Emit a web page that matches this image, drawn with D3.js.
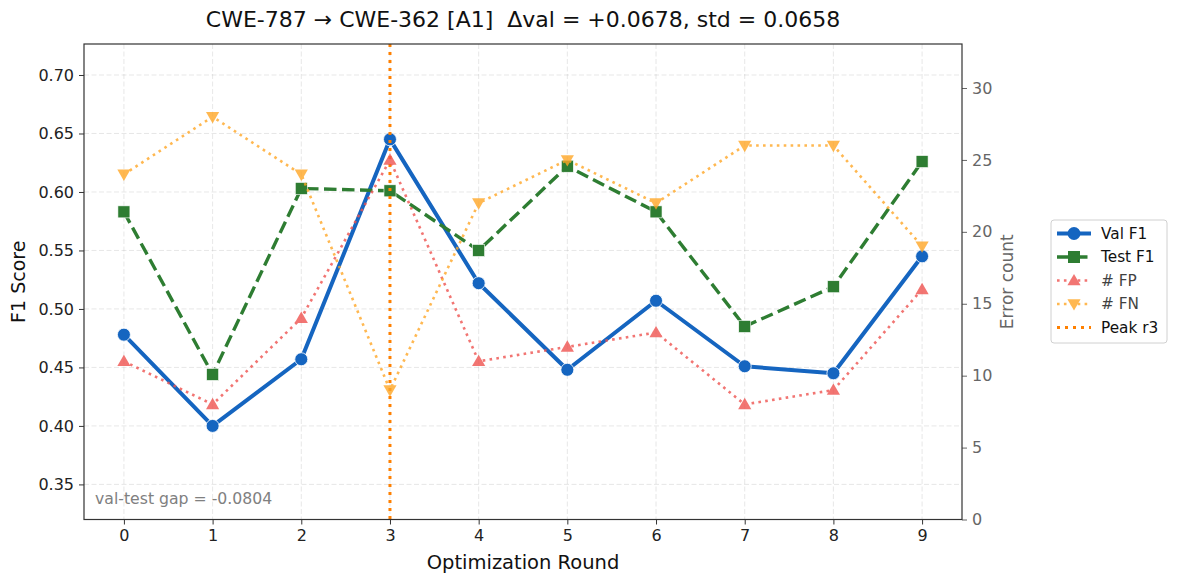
<!DOCTYPE html>
<html>
<head>
<meta charset="utf-8">
<script src="https://cdn.jsdelivr.net/npm/d3@7"></script>
<style>
  body { margin: 0; background: #fff; }
  svg { font-family: "DejaVu Sans", sans-serif; }
  text { white-space: pre; }
</style>
</head>
<body>
<div id="container"></div>
<script>
// data
const rounds = [0, 1, 2, 3, 4, 5, 6, 7, 8, 9];
const valF1 = [0.478, 0.400, 0.457, 0.645, 0.522, 0.448, 0.507, 0.451, 0.445, 0.545];
const testF1 = [0.583, 0.444, 0.603, 0.601, 0.550, 0.622, 0.583, 0.485, 0.519, 0.626];
const fpCount = [11, 8, 14, 25, 11, 12, 13, 8, 9, 16];
const fnCount = [24, 28, 24, 9, 22, 25, 22, 26, 26, 19];
const peakRound = 3;
const leftTicks = [0.35, 0.40, 0.45, 0.50, 0.55, 0.60, 0.65, 0.70];
const rightTicks = [0, 5, 10, 15, 20, 25, 30];
const titleText = "CWE-787 \u2192 CWE-362 [A1]  \u0394val = +0.0678, std = 0.0658";
const gapText = "val-test gap = -0.0804";

const width = 1178, height = 582;
const margin = { top: 44, right: 216, bottom: 62.5, left: 84 };
const plotW = width - margin.left - margin.right;
const plotH = height - margin.top - margin.bottom;

const svg = d3.select("#container")
    .append("svg")
    .attr("width", width)
    .attr("height", height);

const x = d3.scaleLinear().domain([-0.45, 9.45]).range([0, plotW]);
const yL = d3.scaleLinear().domain([0.32, 0.7265]).range([plotH, 0]);
const yR = d3.scaleLinear().domain([0, 33.06]).range([plotH, 0]);

const g = svg.append("g")
    .attr("transform", `translate(${margin.left},${margin.top})`);

// grid
g.append("g")
    .selectAll("line.vg")
    .data(rounds)
    .join("line")
    .attr("x1", d => x(d)).attr("x2", d => x(d))
    .attr("y1", 0).attr("y2", plotH)
    .attr("stroke", "#b0b0b0").attr("stroke-opacity", 0.3)
    .attr("stroke-dasharray", "5,2.5").attr("stroke-width", 1);
g.append("g")
    .selectAll("line.hg")
    .data(leftTicks)
    .join("line")
    .attr("x1", 0).attr("x2", plotW)
    .attr("y1", d => yL(d)).attr("y2", d => yL(d))
    .attr("stroke", "#b0b0b0").attr("stroke-opacity", 0.3)
    .attr("stroke-dasharray", "5,2.5").attr("stroke-width", 1);

const marks = g.append("g");

// Val F1
marks.append("path")
    .datum(rounds)
    .attr("fill", "none")
    .attr("stroke", "#1565C0")
    .attr("stroke-width", 4)
    .attr("stroke-linejoin", "round")
    .attr("d", d3.line().x(d => x(d)).y((d, i) => yL(valF1[i])));
marks.append("g")
    .selectAll("circle")
    .data(rounds)
    .join("circle")
    .attr("cx", d => x(d))
    .attr("cy", (d, i) => yL(valF1[i]))
    .attr("r", 6.5)
    .attr("fill", "#1565C0")
    .attr("stroke", "#fff").attr("stroke-width", 0.8);

// Test F1
marks.append("path")
    .datum(rounds)
    .attr("fill", "none")
    .attr("stroke", "#2E7D32")
    .attr("stroke-width", 3.4)
    .attr("stroke-dasharray", "12.5,5.5")
    .attr("d", d3.line().x(d => x(d)).y((d, i) => yL(testF1[i])));
marks.append("g")
    .selectAll("rect")
    .data(rounds)
    .join("rect")
    .attr("x", d => x(d) - 6)
    .attr("y", (d, i) => yL(testF1[i]) - 6)
    .attr("width", 12).attr("height", 12)
    .attr("fill", "#2E7D32")
    .attr("stroke", "#fff").attr("stroke-width", 0.6);

// Peak line
g.append("line")
    .attr("x1", x(peakRound)).attr("x2", x(peakRound))
    .attr("y1", 0).attr("y2", plotH)
    .attr("stroke", "#FF8000")
    .attr("stroke-width", 3)
    .attr("stroke-dasharray", "3,5");

const tri = d3.symbol().type(d3.symbolTriangle).size(75);

// # FP
const fp = g.append("g").attr("opacity", 0.8);
fp.append("path")
    .datum(rounds)
    .attr("fill", "none")
    .attr("stroke", "#EF5350")
    .attr("stroke-width", 2.6)
    .attr("stroke-dasharray", "2.6,4.3")
    .attr("d", d3.line().x(d => x(d)).y((d, i) => yR(fpCount[i])));
fp.selectAll("path.m")
    .data(rounds)
    .join("path")
    .attr("class", "m")
    .attr("transform", (d, i) => `translate(${x(d)},${yR(fpCount[i]) + 1})`)
    .attr("d", tri)
    .attr("fill", "#EF5350");

// # FN
const fn = g.append("g").attr("opacity", 0.8);
fn.append("path")
    .datum(rounds)
    .attr("fill", "none")
    .attr("stroke", "#FFA726")
    .attr("stroke-width", 2.6)
    .attr("stroke-dasharray", "2.6,4.3")
    .attr("d", d3.line().x(d => x(d)).y((d, i) => yR(fnCount[i])));
fn.selectAll("path.m")
    .data(rounds)
    .join("path")
    .attr("class", "m")
    .attr("transform", (d, i) => `translate(${x(d)},${yR(fnCount[i]) - 1}) rotate(180)`)
    .attr("d", tri)
    .attr("fill", "#FFA726");

// axes
const xAxis = g.append("g")
    .attr("transform", `translate(0,${plotH})`)
    .call(d3.axisBottom(x).tickValues(rounds).tickSize(5).tickPadding(5).tickFormat(d3.format("d")));
const leftAxis = g.append("g")
    .call(d3.axisLeft(yL).tickValues(leftTicks).tickSize(5).tickPadding(5).tickFormat(d3.format(".2f")));
const rightAxis = g.append("g")
    .attr("transform", `translate(${plotW},0)`)
    .call(d3.axisRight(yR).tickValues(rightTicks).tickSize(5).tickPadding(5).tickFormat(d3.format("d")));

[xAxis, leftAxis, rightAxis].forEach(a => {
    a.select(".domain").remove();
    a.selectAll("text").attr("font-size", 16).attr("font-family", "DejaVu Sans");
});
xAxis.selectAll("text").attr("fill", "#222");
leftAxis.selectAll("text").attr("fill", "#222");
xAxis.selectAll("line").attr("stroke", "#333");
leftAxis.selectAll("line").attr("stroke", "#333");
rightAxis.selectAll("line").attr("stroke", "#666");
rightAxis.selectAll("text").attr("fill", "#666");

// frame
g.append("rect")
    .attr("width", plotW).attr("height", plotH)
    .attr("fill", "none")
    .attr("stroke", "#333").attr("stroke-width", 1.2);

// labels
svg.append("text")
    .attr("x", margin.left + plotW / 2).attr("y", 27)
    .attr("text-anchor", "middle")
    .attr("font-size", 22).attr("fill", "#111")
    .text(titleText);
svg.append("text")
    .attr("x", margin.left + plotW / 2).attr("y", 569)
    .attr("text-anchor", "middle")
    .attr("font-size", 19.5).attr("fill", "#111")
    .text("Optimization Round");
svg.append("text")
    .attr("transform", `translate(25,${margin.top + plotH / 2}) rotate(-90)`)
    .attr("text-anchor", "middle")
    .attr("font-size", 19).attr("fill", "#111")
    .text("F1 Score");
svg.append("text")
    .attr("transform", `translate(1013,${margin.top + plotH / 2}) rotate(-90)`)
    .attr("text-anchor", "middle")
    .attr("font-size", 17).attr("fill", "#666")
    .text("Error count");
g.append("text")
    .attr("x", 11).attr("y", plotH - 16)
    .attr("font-size", 15.7).attr("fill", "#808080")
    .text(gapText);

// legend
const legendItems = [
    { label: "Val F1", color: "#1565C0", width: 4, dash: null, marker: "circle", op: 1 },
    { label: "Test F1", color: "#2E7D32", width: 3.4, dash: "12.5,5.5", marker: "square", op: 1 },
    { label: "# FP", color: "#EF5350", width: 2.6, dash: "2.6,4.3", marker: "up", op: 0.8 },
    { label: "# FN", color: "#FFA726", width: 2.6, dash: "2.6,4.3", marker: "down", op: 0.8 },
    { label: "Peak r" + peakRound, color: "#FF8000", width: 3, dash: "3,5", marker: null, op: 1 }
];
const legend = svg.append("g").attr("transform", "translate(1051,220)");
legend.append("rect")
    .attr("width", 116).attr("height", 123)
    .attr("rx", 3)
    .attr("fill", "#fff").attr("fill-opacity", 0.8)
    .attr("stroke", "#d0d0d0").attr("stroke-width", 1);
const rows = legend.selectAll("g.row")
    .data(legendItems)
    .join("g")
    .attr("class", "row")
    .attr("opacity", d => d.op)
    .attr("transform", (d, i) => `translate(0,${13.5 + i * 23.5})`);
rows.append("line")
    .attr("x1", 6).attr("x2", 40)
    .attr("stroke", d => d.color)
    .attr("stroke-width", d => d.width)
    .attr("stroke-dasharray", d => d.dash);
rows.filter(d => d.marker === "circle").append("circle")
    .attr("cx", 23).attr("r", 6.5).attr("fill", d => d.color);
rows.filter(d => d.marker === "square").append("rect")
    .attr("x", 17).attr("y", -6).attr("width", 12).attr("height", 12).attr("fill", d => d.color);
rows.filter(d => d.marker === "up").append("path")
    .attr("transform", "translate(23,1)").attr("d", tri).attr("fill", d => d.color);
rows.filter(d => d.marker === "down").append("path")
    .attr("transform", "translate(23,-1) rotate(180)").attr("d", tri).attr("fill", d => d.color);
rows.append("text")
    .attr("x", 50).attr("dy", "0.35em")
    .attr("font-size", 15.3).attr("fill", "#111")
    .text(d => d.label);
</script>
</body>
</html>
